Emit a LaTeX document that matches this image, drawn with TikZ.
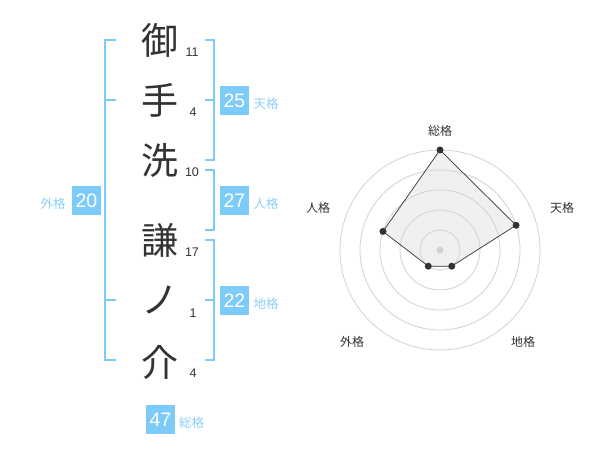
\documentclass[tikz,border=0pt]{standalone}
\usepackage{fontspec}
\setmainfont{Liberation Sans}
\newfontfamily\jp{Noto Sans CJK JP}
\definecolor{boxblue}{RGB}{125,203,248}
\definecolor{lblblue}{RGB}{140,208,245}
\definecolor{ink}{RGB}{51,51,51}
\definecolor{ring}{RGB}{210,210,210}
\definecolor{polyfill}{RGB}{240,240,240}
\begin{document}
\begin{tikzpicture}[x=1pt,y=-1pt,
  kanji/.style={font=\jp\fontsize{37}{37}\selectfont, text=ink, inner sep=0pt},
  strokes/.style={font=\fontsize{12.5}{12.5}\selectfont, text=ink, inner sep=0pt},
  numbox/.style={fill=boxblue, text=white, minimum width=29pt, minimum height=29pt, inner sep=0pt, font=\fontsize{19.5}{19.5}\selectfont},
  kaku/.style={font=\jp\fontsize{12.5}{12.5}\selectfont, text=lblblue, inner sep=0pt},
  brk/.style={draw=boxblue, line width=1.6pt},
  ringline/.style={draw=ring, line width=0.8pt},
  axislbl/.style={font=\jp\fontsize{12}{12}\selectfont, text=ink, inner sep=0pt},
  dot/.style={circle, fill=ink, inner sep=0pt, minimum size=7pt},
]
\useasboundingbox (0,0) rectangle (600,470);
\fill[white] (0,0) rectangle (600,470);

% characters
\node[kanji] (c1) at (160,40) {御};
\node[kanji] (c2) at (160,100) {手};
\node[kanji] (c3) at (160,160) {洗};
\node[kanji] (c4) at (160,240) {謙};
\node[kanji] (c5) at (160,300) {ノ};
\node[kanji] (c6) at (160,362) {介};
% stroke counts
\node[strokes] (s1) at (192,52) {11};
\node[strokes] (s2) at (193,112) {4};
\node[strokes] (s3) at (192,172) {10};
\node[strokes] (s4) at (192,252) {17};
\node[strokes] (s5) at (193,313) {1};
\node[strokes] (s6) at (193,373) {4};

% brackets
\coordinate (lt) at (116,40);
\coordinate (lb) at (116,360);
\draw[brk] (lt) -- (105,40) -- (105,360) -- (lb);
\draw[brk] (105,100) -- (116,100);
\draw[brk] (105,300) -- (116,300);

\draw[brk] (205,40) -- (214,40) -- (214,160) -- (205,160);
\draw[brk] (205,100) -- (214,100);
\draw[brk] (205,170) -- (214,170) -- (214,230) -- (205,230);
\draw[brk] (205,240) -- (214,240) -- (214,360) -- (205,360);
\draw[brk] (205,300) -- (214,300);

% boxes and labels
\node[numbox] (ten) at (234.5,100.5) {25};
\node[kaku] (tenl) at (266,104) {天格};
\node[numbox] (jin) at (234.5,200.5) {27};
\node[kaku] (jinl) at (266,204) {人格};
\node[numbox] (chi) at (234.5,300.5) {22};
\node[kaku] (chil) at (266,304) {地格};
\node[numbox] (gai) at (86.5,200.5) {20};
\node[kaku] (gail) at (53,204) {外格};
\node[numbox] (sou) at (160.5,419.5) {47};
\node[kaku] (soul) at (191.5,423) {総格};

% radar chart
\coordinate (rc) at (440,250);
\coordinate (p1) at (440,150);
\coordinate (p2) at (516.08,225.28);
\coordinate (p3) at (451.76,266.18);
\coordinate (p4) at (428.24,266.18);
\coordinate (p5) at (382.94,231.46);
\fill[polyfill] (p1) -- (p2) -- (p3) -- (p4) -- (p5) -- cycle;
\foreach \r in {20,40,60,80,100} \draw[ringline] (rc) circle (\r);
\fill[ring] (rc) circle (3.5);
\draw[ink, line width=0.7pt] (p1) -- (p2) -- (p3) -- (p4) -- (p5) -- cycle;
\foreach \p in {p1,p2,p3,p4,p5} \node[dot] at (\p) {};
\node[axislbl] (a1) at (440,131) {総格};
\node[axislbl] (a2) at (562,208) {天格};
\node[axislbl] (a3) at (318,208) {人格};
\node[axislbl] (a4) at (352,342) {外格};
\node[axislbl] (a5) at (523,342) {地格};
\end{tikzpicture}
\end{document}
